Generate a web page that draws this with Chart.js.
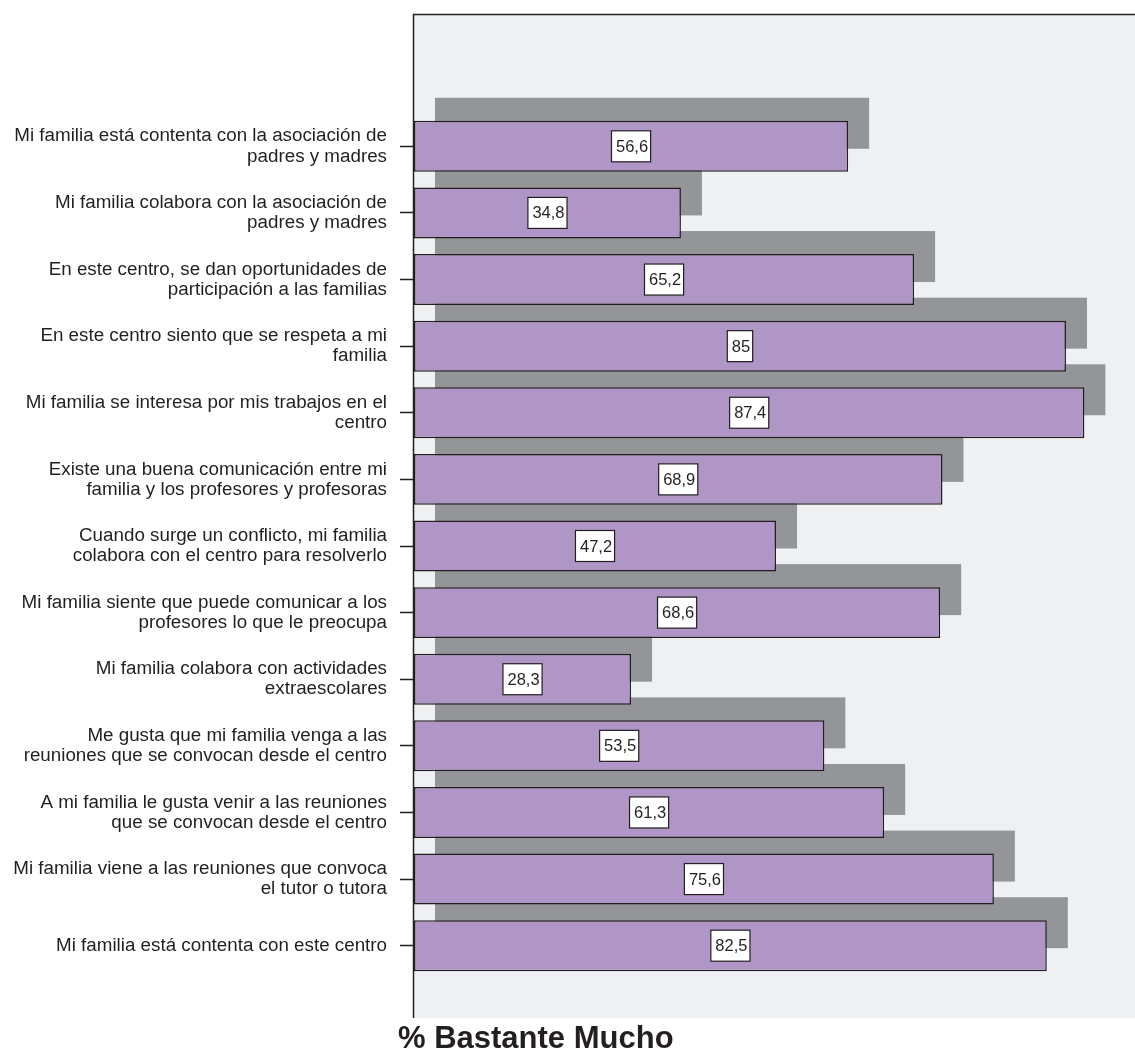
<!DOCTYPE html>
<html>
<head>
<meta charset="utf-8">
<script src="https://cdn.jsdelivr.net/npm/chart.js@4.4.1/dist/chart.umd.min.js"></script>
<style>
  body { margin: 0; background: #fff; }
</style>
</head>
<body>
<canvas id="myChart" width="1135" height="1050"></canvas>
<script>
// categories (two lines each) and the % "bastante / mucho" values
const categories = [
  ["Mi familia está contenta con la asociación de", "padres y madres"],
  ["Mi familia colabora con la asociación de", "padres y madres"],
  ["En este centro, se dan oportunidades de", "participación a las familias"],
  ["En este centro siento que se respeta a mi", "familia"],
  ["Mi familia se interesa por mis trabajos en el", "centro"],
  ["Existe una buena comunicación entre mi", "familia y los profesores y profesoras"],
  ["Cuando surge un conflicto, mi familia", "colabora con el centro para resolverlo"],
  ["Mi familia siente que puede comunicar a los", "profesores lo que le preocupa"],
  ["Mi familia colabora con actividades", "extraescolares"],
  ["Me gusta que mi familia venga a las", "reuniones que se convocan desde el centro"],
  ["A mi familia le gusta venir a las reuniones", "que se convocan desde el centro"],
  ["Mi familia viene a las reuniones que convoca", "el tutor o tutora"],
  ["Mi familia está contenta con este centro"]
];
const values = [56.6, 34.8, 65.2, 85, 87.4, 68.9, 47.2, 68.6, 28.3, 53.5, 61.3, 75.6, 82.5];
const axisTitle = "% Bastante Mucho";

const ink = "#231F20";

// plot background + frame (goes beyond the bar area like the original)
const frame = {
  id: "frame",
  beforeDraw(chart) {
    const c = chart.ctx;
    const left = chart.chartArea.left - 1;
    c.save();
    c.fillStyle = "#EFF0F2";
    c.fillRect(left, 15, chart.width - left, 1003);
    c.strokeStyle = ink;
    c.lineWidth = 1.5;
    c.beginPath();
    c.moveTo(left + 0.5, 1018);
    c.lineTo(left + 0.5, 14.5);
    c.lineTo(chart.width, 14.5);
    c.stroke();
    c.restore();
  }
};

// grey offset block behind every bar
const shadow = {
  id: "shadow",
  beforeDatasetsDraw(chart) {
    const c = chart.ctx;
    c.save();
    c.fillStyle = "#939598";
    chart.getDatasetMeta(0).data.forEach(bar => {
      const h = bar.height;
      c.fillRect(bar.base + 21, bar.y - h / 2 - 23, bar.x - bar.base, h);
    });
    c.restore();
  }
};

// white value boxes in the middle of each bar
const valueBoxes = {
  id: "valueBoxes",
  afterDatasetsDraw(chart) {
    const c = chart.ctx;
    c.save();
    c.font = "16.5px 'Liberation Sans', Arial, sans-serif";
    c.textAlign = "center";
    c.textBaseline = "middle";
    chart.getDatasetMeta(0).data.forEach((bar, i) => {
      const txt = String(values[i]).replace(".", ",");
      const w = c.measureText(txt).width + 7;
      const h = 31;
      const cx = (bar.x + bar.base) / 2;
      c.fillStyle = "#fff";
      c.fillRect(cx - w / 2, bar.y - h / 2, w, h);
      c.strokeStyle = ink;
      c.lineWidth = 1.2;
      c.strokeRect(cx - w / 2, bar.y - h / 2, w, h);
      c.fillStyle = ink;
      c.fillText(txt, cx + 1, bar.y + 1);
    });
    c.restore();
  }
};

const bottomTitle = {
  id: "bottomTitle",
  afterDraw(chart) {
    const c = chart.ctx;
    c.save();
    c.font = "bold 31px 'Liberation Sans', Arial, sans-serif";
    c.fillStyle = ink;
    c.textBaseline = "alphabetic";
    c.fillText(axisTitle, 398, 1048);
    c.restore();
  }
};

var ctx = document.getElementById("myChart").getContext("2d");
var myChart = new Chart(ctx, {
  type: "bar",
  data: {
    labels: categories,
    datasets: [
      {
        data: values,
        backgroundColor: "#AF96C7",
        borderColor: ink,
        borderWidth: 1.5,
        borderSkipped: false,
        categoryPercentage: 1,
        barPercentage: 0.765
      }
    ]
  },
  plugins: [frame, shadow, valueBoxes, bottomTitle],
  options: {
    indexAxis: "y",
    responsive: false,
    animation: false,
    layout: {
      padding: { left: 0, right: 0, top: 113, bottom: 71 }
    },
    scales: {
      x: {
        display: false,
        min: 0,
        max: 94
      },
      y: {
        afterFit(scale) { scale.width = 414; },
        border: { display: false },
        grid: {
          offset: false,
          drawOnChartArea: false,
          tickLength: 14,
          tickWidth: 1.5,
          tickColor: ink
        },
        ticks: {
          padding: 13,
          color: ink,
          font: { family: "'Liberation Sans', Arial, sans-serif", size: 18.8, lineHeight: 1.07 }
        }
      }
    },
    plugins: {
      legend: { display: false },
      tooltip: { enabled: false }
    }
  }
});
</script>
</body>
</html>
